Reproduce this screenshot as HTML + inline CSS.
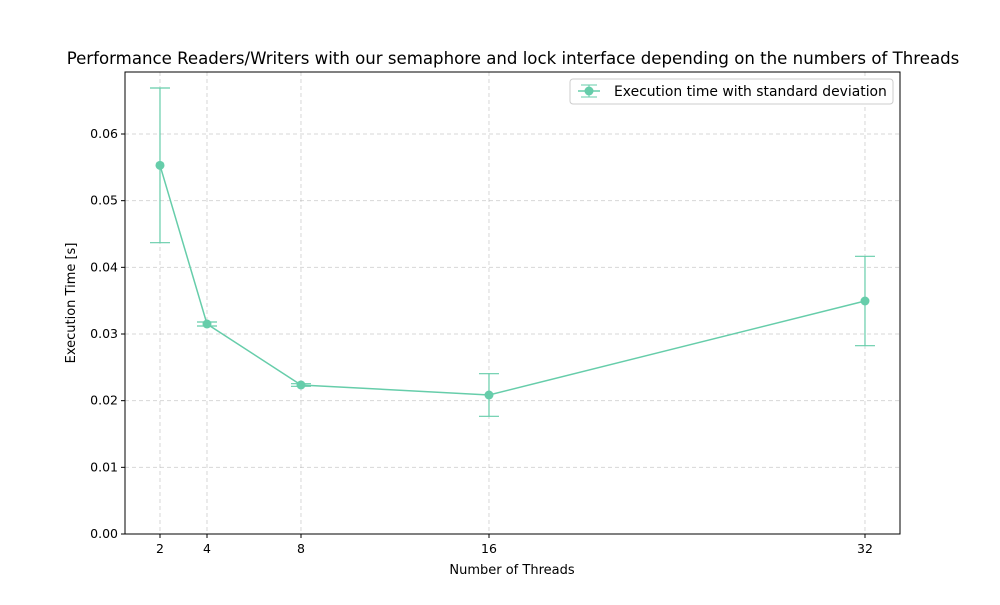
<!DOCTYPE html>
<html><head><meta charset="utf-8"><style>
body{margin:0;background:#fff;}
svg text{font-family:"DejaVu Sans","Liberation Sans",sans-serif;fill:#000;}
</style></head><body>
<svg id="chart" width="1000" height="600" xmlns="http://www.w3.org/2000/svg">
<rect width="1000" height="600" fill="#fff"/>
<text x="513" y="64" font-size="16.6" text-anchor="middle">Performance Readers/Writers with our semaphore and lock interface depending on the numbers of Threads</text>
<g id="grid"></g>
<g id="axes"></g>
<g id="series"></g>
<rect x="125" y="72" width="775" height="462" fill="none" stroke="#000" stroke-width="1"/>
<text x="512" y="574" font-size="13" text-anchor="middle">Number of Threads</text>
<text transform="translate(75,303) rotate(-90)" font-size="13" text-anchor="middle">Execution Time [s]</text>
<g>
<rect x="570" y="79" width="323" height="25" rx="3" fill="#fff" stroke="#ccc"/>
<line x1="578" y1="91" x2="600" y2="91" stroke="#66cdaa" stroke-width="1.5"/>
<line x1="581" y1="85" x2="597" y2="85" stroke="#66cdaa"/>
<line x1="581" y1="97" x2="597" y2="97" stroke="#66cdaa"/>
<line x1="589" y1="85" x2="589" y2="97" stroke="#66cdaa"/>
<circle cx="589" cy="91" r="4.5" fill="#66cdaa"/>
<text x="614" y="96" font-size="13.9">Execution time with standard deviation</text>
</g>
</svg>
<script>
const threads=[2,4,8,16,32];
const means=[0.0553,0.0315,0.02235,0.02085,0.03495];
const stds=[0.0116,0.0003,0.0002,0.0032,0.0067];
const yTicks=[0,0.01,0.02,0.03,0.04,0.05,0.06];
const yLabels=["0.00","0.01","0.02","0.03","0.04","0.05","0.06"];
const NS="http://www.w3.org/2000/svg";
const X0=125,X1=900,Y0=534,Y1=72;
const xmin=0.511,xmax=33.49,ymin=0,ymax=0.0693;
const sx=v=>X0+(v-xmin)/(xmax-xmin)*(X1-X0);
const sy=v=>Y0-(v-ymin)/(ymax-ymin)*(Y0-Y1);
function mk(tag,attrs,parent){const e=document.createElementNS(NS,tag);for(const k in attrs)e.setAttribute(k,attrs[k]);document.getElementById(parent).appendChild(e);return e;}
threads.forEach(t=>{
 const g=mk('line',{x1:sx(t),x2:sx(t),y1:Y1,y2:Y0,stroke:'#b0b0b0','stroke-dasharray':'4,3','stroke-opacity':0.5},'grid');
 
 
 mk('line',{x1:sx(t),x2:sx(t),y1:Y0,y2:Y0+4,stroke:'#000'},'axes');
 const l=mk('text',{x:sx(t),y:Y0+19,'font-size':12.5,'text-anchor':'middle'},'axes');l.textContent=t;
 
 
});
yTicks.forEach((v,i)=>{
 const g=mk('line',{x1:X0,x2:X1,y1:sy(v),y2:sy(v),stroke:'#b0b0b0','stroke-dasharray':'4,3','stroke-opacity':0.5},'grid');
 
 
 mk('line',{x1:X0-4,x2:X0,y1:sy(v),y2:sy(v),stroke:'#000'},'axes');
 const l=mk('text',{x:X0-7,y:sy(v)+4,'font-size':12.5,'text-anchor':'end'},'axes');l.textContent=yLabels[i];
 
 
});
const c='#66cdaa';
const p=mk('polyline',{points:threads.map((t,i)=>sx(t)+','+sy(means[i])).join(' '),fill:'none',stroke:c,'stroke-width':1.5},'series');


threads.forEach((t,i)=>{
 const x=sx(t),yt=sy(means[i]+stds[i]),yb=sy(means[i]-stds[i]);
 const e=mk('line',{x1:x,x2:x,y1:yt,y2:yb,stroke:c,'stroke-width':1.2},'series');
 
 
 mk('line',{x1:x-10,x2:x+10,y1:yt,y2:yt,stroke:c,'stroke-width':1.2},'series');
 mk('line',{x1:x-10,x2:x+10,y1:yb,y2:yb,stroke:c,'stroke-width':1.2},'series');
 const m=mk('circle',{cx:x,cy:sy(means[i]),r:4.5,fill:c},'series');
 
 
});
</script>
</body></html>
